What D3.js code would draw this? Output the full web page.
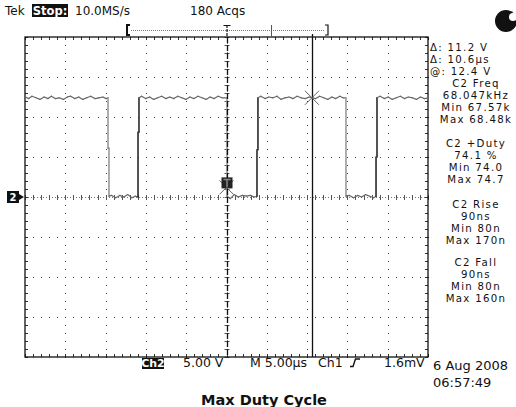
<!DOCTYPE html>
<html><head><meta charset="utf-8">
<script src="https://cdn.jsdelivr.net/npm/d3@7"></script>
<style>body{margin:0;background:#fff}svg{display:block}text{font-family:"DejaVu Sans",sans-serif;fill:#111}</style>
</head><body>
<svg id="c" width="516" height="407"></svg>
<script>
// ---- data ----
// Channel 2 trace: [time µs (0 = trigger), volts]
const trace = [
 [-25.0,12.5],[-24.6,12.3],[-24.2,12.6],[-23.7,12.4],[-23.2,12.2],[-22.7,12.5],[-22.2,12.3],[-21.8,12.6],[-21.3,12.3],[-20.8,12.4],[-20.3,12.2],[-19.8,12.5],[-19.4,12.6],[-18.9,12.3],[-18.4,12.5],[-17.9,12.2],[-17.4,12.4],[-16.9,12.6],[-16.4,12.3],[-15.9,12.4],[-15.4,12.5],[-15.0,12.3],[-14.76,12.4],
 [-14.76,6.1],[-14.64,6.1],[-14.64,0.1],
 [-14.3,0.2],[-13.8,-0.1],[-13.3,0.2],[-12.8,0.0],[-12.3,0.3],[-11.8,-0.1],[-11.4,0.1],[-11.04,0.0],
 [-11.04,8.1],[-10.92,8.1],[-10.92,12.4],
 [-10.6,12.6],[-10.1,12.3],[-9.6,12.5],[-9.1,12.2],[-8.6,12.4],[-8.1,12.6],[-7.6,12.3],[-7.1,12.5],[-6.6,12.3],[-6.1,12.6],[-5.6,12.4],[-5.1,12.2],[-4.6,12.5],[-4.1,12.3],[-3.6,12.6],[-3.1,12.4],[-2.6,12.2],[-2.1,12.5],[-1.6,12.3],[-1.1,12.6],[-0.6,12.4],[0,12.4],
 [0,0.1],
 [0.4,-0.2],[0.9,0.3],[1.4,0.0],[1.9,0.2],[2.4,0.1],[2.9,0.2],[3.4,0.0],[3.72,0.1],
 [3.72,5.9],[3.84,5.9],[3.84,12.4],
 [4.2,12.6],[4.7,12.3],[5.2,12.5],[5.7,12.4],[6.2,12.6],[6.7,12.2],[7.2,12.4],[7.7,12.5],[8.2,12.3],[8.7,12.6],[9.2,12.4],[9.7,12.3],[10.2,12.5],[10.6,12.4],[11.0,12.3],[11.5,12.6],[12.0,12.4],[12.5,12.2],[13.0,12.5],[13.5,12.3],[14.0,12.6],[14.4,12.4],[14.76,12.4],
 [14.76,0.1],
 [15.2,0.2],[15.7,-0.1],[16.2,0.2],[16.7,0.0],[17.2,0.3],[17.7,0.1],[18.2,-0.1],[18.49,0.1],
 [18.49,5.0],[18.61,5.0],[18.61,12.4],
 [19.0,12.6],[19.5,12.3],[20.0,12.5],[20.5,12.2],[21.0,12.4],[21.5,12.6],[22.0,12.3],[22.5,12.5],[23.0,12.4],[23.5,12.2],[24.0,12.5],[24.5,12.3],[25.0,12.4]
];
const timeDomain = [-25, 25];      // µs, 10 div × 5.00 µs
const voltDomain = [-20, 20];      // V, 8 div × 5.00 V
const timePerDiv = 5, voltPerDiv = 5, minorPerDiv = 5;
const cursorTimes = [0, 10.6];
const cursorVolts = [1.2, 12.4];
const cursorReadouts = ["\u0394: 11.2 V", "\u0394: 10.6\u00b5s", "@: 12.4 V"];
const measTitles = ["C2 Freq", "C2 +Duty", "C2 Rise", "C2 Fall"];
const measValues = [["68.047kHz","Min 67.57k","Max 68.48k"],["74.1 %","Min 74.0","Max 74.7"],["90ns","Min 80n","Max 170n"],["90ns","Min 80n","Max 160n"]];
const headerTexts = ["Tek", "Stop:", "10.0MS/s", "180 Acqs"];
const statusTexts = ["Ch2", "5.00 V", "M 5.00\u00b5s", "Ch1", "1.6mV"];
const dateTexts = ["6 Aug 2008", "06:57:49"];
const caption = "Max Duty Cycle";
const groundLabel = "2";

// ---- drawing ----
const svg = d3.select("#c");
const L = 25, R = 428, T = 37, B = 357;
const x = d3.scaleLinear().domain(timeDomain).range([L, R]);
const y = d3.scaleLinear().domain(voltDomain).range([B, T]);

const majX = d3.range(timeDomain[0], timeDomain[1] + 0.001, timePerDiv);
const majY = d3.range(voltDomain[0], voltDomain[1] + 0.001, voltPerDiv);
const minX = d3.range(timeDomain[0], timeDomain[1] + 0.001, timePerDiv / minorPerDiv);
const minY = d3.range(voltDomain[0], voltDomain[1] + 0.001, voltPerDiv / minorPerDiv);

const g = svg.append("g");
// dotted major grid (dots at minor positions)
const innerX = majX.filter(v => v > timeDomain[0] && v < timeDomain[1] && v !== 0);
const innerY = majY.filter(v => v > voltDomain[0] && v < voltDomain[1] && v !== 0);
innerX.forEach(tx => minY.forEach(vy => { g.append("rect").attr("x", Math.round(x(tx))).attr("y", Math.round(y(vy))).attr("width",1).attr("height",1).attr("fill","#444"); }));
innerY.forEach(vy => minX.forEach(tx => { g.append("rect").attr("x", Math.round(x(tx))).attr("y", Math.round(y(vy))).attr("width",1).attr("height",1).attr("fill","#444"); }));
// center crosshair: fine dotted line + ticks
g.append("line").attr("x1",L).attr("x2",R).attr("y1",Math.round(y(0))+0.5).attr("y2",Math.round(y(0))+0.5).attr("stroke","#777").attr("stroke-dasharray","1,2");
g.append("line").attr("y1",T).attr("y2",B).attr("x1",Math.round(x(0))+0.5).attr("x2",Math.round(x(0))+0.5).attr("stroke","#777").attr("stroke-dasharray","1,2");
minX.forEach(tx => { g.append("line").attr("x1",Math.round(x(tx))+0.5).attr("x2",Math.round(x(tx))+0.5).attr("y1",y(0)-2).attr("y2",y(0)+3).attr("stroke","#555"); });
minY.forEach(vy => { g.append("line").attr("y1",Math.round(y(vy))+0.5).attr("y2",Math.round(y(vy))+0.5).attr("x1",x(0)-2).attr("x2",x(0)+3).attr("stroke","#555"); });
// border ticks
minX.forEach(tx => {
  const px = Math.round(x(tx)) + 0.5;
  g.append("line").attr("x1",px).attr("x2",px).attr("y1",T).attr("y2",T+3).attr("stroke","#333");
  g.append("line").attr("x1",px).attr("x2",px).attr("y1",B-3).attr("y2",B).attr("stroke","#333");
});
minY.forEach(vy => {
  const py = Math.round(y(vy)) + 0.5;
  g.append("line").attr("y1",py).attr("y2",py).attr("x1",L).attr("x2",L+3).attr("stroke","#333");
  g.append("line").attr("y1",py).attr("y2",py).attr("x1",R-3).attr("x2",R).attr("stroke","#333");
});
// border
g.append("rect").attr("x",L).attr("y",T).attr("width",R-L).attr("height",B-T).attr("fill","none").attr("stroke","#111").attr("stroke-width",1.3);

// trace
const tg = svg.append("g");
for (let i = 0; i < trace.length - 1; i++) {
  const a = trace[i], b = trace[i+1];
  const dv = b[1] - a[1];
  const vertical = a[0] === b[0] && Math.abs(dv) > 2;
  tg.append("line")
    .attr("x1", x(a[0]) + 0.5).attr("y1", y(a[1]))
    .attr("x2", x(b[0]) + 0.5).attr("y2", y(b[1]))
    .attr("stroke", vertical ? (dv < 0 ? "#9a9a9a" : "#2a2a2a") : "#666")
    .attr("stroke-width", vertical ? 1.6 : 1.2)
    .attr("stroke-linecap","round");
}

// cursors
svg.append("line").attr("x1",Math.round(x(cursorTimes[0]))+0.5).attr("x2",Math.round(x(cursorTimes[0]))+0.5).attr("y1",T).attr("y2",B).attr("stroke","#111").attr("stroke-width",1.3).attr("stroke-dasharray","6,2");
svg.append("line").attr("x1",Math.round(x(cursorTimes[1]))+0.5).attr("x2",Math.round(x(cursorTimes[1]))+0.5).attr("y1",T-3).attr("y2",B).attr("stroke","#111").attr("stroke-width",1.3);
// X marks at cursor / waveform intersections
cursorTimes.forEach((ct, i) => {
  const cx = x(ct), cy = y(cursorVolts[i]), s = 7;
  svg.append("path").attr("d",`M${cx-s},${cy-s}L${cx+s},${cy+s}M${cx-s},${cy+s}L${cx+s},${cy-s}`).attr("stroke","#666").attr("stroke-width",1);
});
// trigger marker at trigger point
{
  const tx = x(0), ty = y(cursorVolts[0]);
  svg.append("rect").attr("x",tx-5).attr("y",ty-10).attr("width",11).attr("height",11).attr("fill","#222");
  svg.append("path").attr("d",`M${tx-3},${ty-8}h7M${tx+0.5},${ty-8}v8`).attr("stroke","#888").attr("stroke-width",1.5);
}
// ground marker
{
  const gy = y(0);
  svg.append("rect").attr("x",7).attr("y",gy-6).attr("width",12).attr("height",12).attr("fill","#111");
  svg.append("text").attr("x",13).attr("y",gy+4).attr("text-anchor","middle").attr("font-size",10).attr("font-weight","bold").style("fill","#fff").text(groundLabel);
  svg.append("path").attr("d",`M19,${gy-3}L24,${gy}L19,${gy+3}Z`).attr("fill","#111");
}

// header
svg.append("text").attr("x",5).attr("y",15).attr("font-size",12).text(headerTexts[0]);
svg.append("rect").attr("x",32).attr("y",4).attr("width",36).attr("height",13).attr("fill","#111");
svg.append("text").attr("x",50).attr("y",15).attr("text-anchor","middle").attr("font-size",11.5).attr("font-weight","bold").style("fill","#fff").text(headerTexts[1]);
svg.append("text").attr("x",75).attr("y",15).attr("font-size",12).text(headerTexts[2]);
svg.append("text").attr("x",190).attr("y",15).attr("font-size",12).text(headerTexts[3]);
// record bracket
svg.append("path").attr("d","M130,25H127V35H130").attr("fill","none").attr("stroke","#111").attr("stroke-width",2);
svg.append("path").attr("d","M325,25H328V35H325").attr("fill","none").attr("stroke","#111").attr("stroke-width",1.2);
svg.append("line").attr("x1",131).attr("x2",325).attr("y1",30.5).attr("y2",30.5).attr("stroke","#777").attr("stroke-dasharray","1,1");
svg.append("line").attr("x1",271.5).attr("x2",271.5).attr("y1",25).attr("y2",36).attr("stroke","#555");
svg.append("path").attr("d",`M${x(0)-3},25.5H${x(0)+4}M${x(0)+0.5},25V37`).attr("stroke","#111").attr("stroke-width",1.2).attr("stroke-dasharray","3,1");
// top-right status indicator
svg.append("circle").attr("cx",506).attr("cy",21).attr("r",11).attr("fill","#111");
svg.append("circle").attr("cx",513).attr("cy",17).attr("r",4).attr("fill","#fff");

// right-side readouts
const fs = 10.2, ls = 1.3, lineStep = 12;
cursorReadouts.forEach((t, i) => { svg.append("text").attr("x",430).attr("y",51 + i*lineStep).attr("font-size",fs).attr("letter-spacing",ls).text(t); });
const groupTop = [87, 147, 208, 266];
measTitles.forEach((t, i) => {
  svg.append("text").attr("x",476).attr("y",groupTop[i]).attr("text-anchor","middle").attr("font-size",fs).attr("letter-spacing",ls).text(t);
  measValues[i].forEach((v, j) => { svg.append("text").attr("x",476).attr("y",groupTop[i] + (j+1)*lineStep).attr("text-anchor","middle").attr("font-size",fs).attr("letter-spacing",ls).text(v); });
});

// bottom status line
svg.append("rect").attr("x",142).attr("y",358).attr("width",22).attr("height",11).attr("fill","#111");
svg.append("text").attr("x",153).attr("y",367).attr("text-anchor","middle").attr("font-size",11).attr("font-weight","bold").style("fill","#fff").text(statusTexts[0]);
svg.append("text").attr("x",183).attr("y",367).attr("font-size",12.5).text(statusTexts[1]);
svg.append("text").attr("x",250).attr("y",367).attr("font-size",12.5).text(statusTexts[2]);
svg.append("text").attr("x",318).attr("y",367).attr("font-size",12.5).text(statusTexts[3]);
svg.append("path").attr("d","M350,366.5H353L355.5,359H360").attr("fill","none").attr("stroke","#111").attr("stroke-width",1.4);
svg.append("text").attr("x",384).attr("y",367).attr("font-size",12.5).text(statusTexts[4]);
svg.append("text").attr("x",433).attr("y",370).attr("font-size",13).text(dateTexts[0]);
svg.append("text").attr("x",433).attr("y",387).attr("font-size",13).text(dateTexts[1]);
svg.append("text").attr("x",264).attr("y",405).attr("text-anchor","middle").attr("font-size",14.5).attr("font-weight","bold").text(caption);
</script>
</body></html>
